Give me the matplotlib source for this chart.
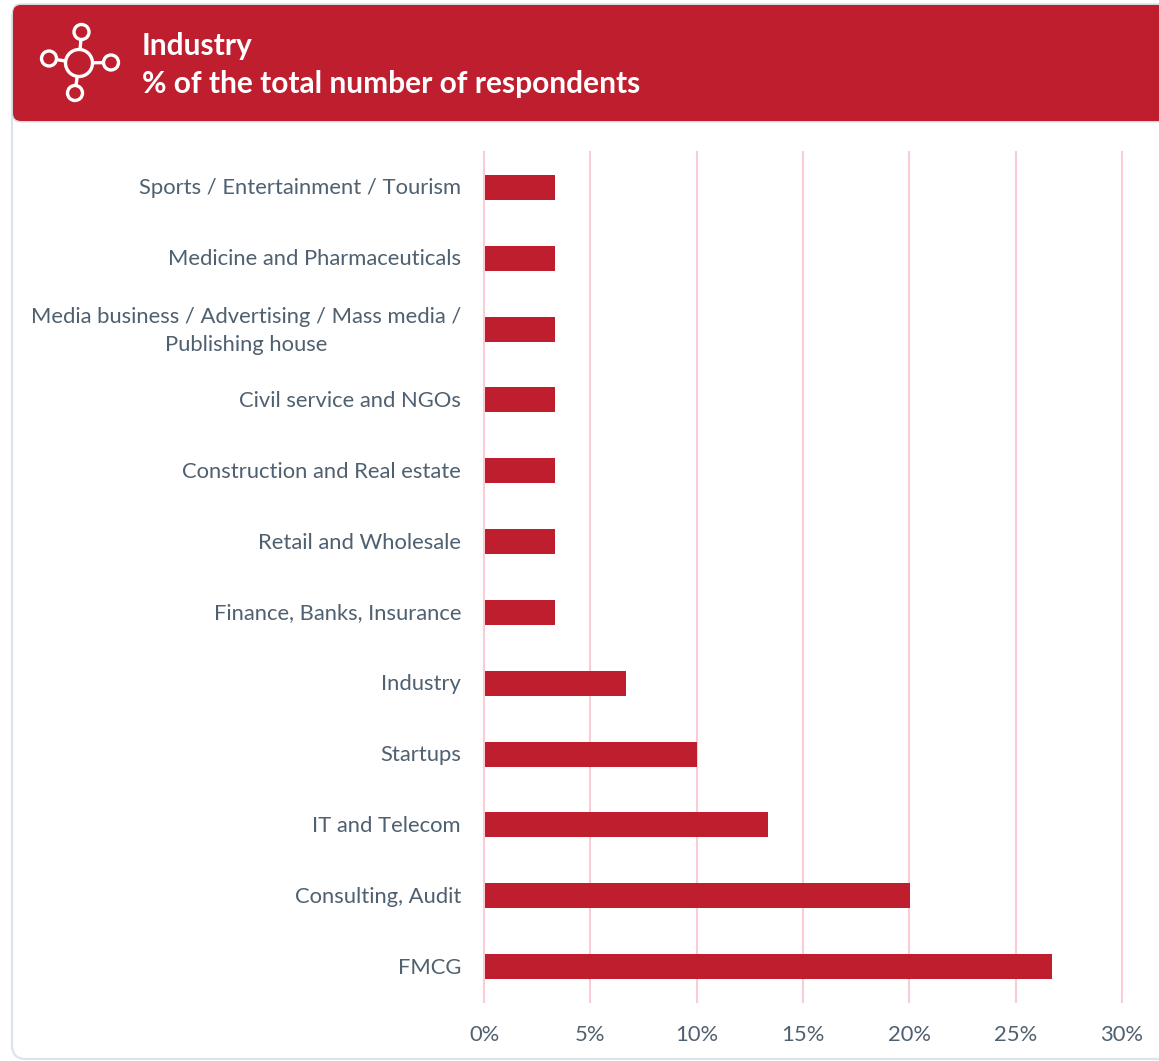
import matplotlib
matplotlib.use("Agg")
import matplotlib.pyplot as plt
from matplotlib.patches import Circle, FancyBboxPatch
from matplotlib.transforms import ScaledTranslation

plt.rcParams["font.family"] = ["Lato", "DejaVu Sans"]

# ── Data ─────────────────────────────────────────────────
categories = [
    "FMCG",
    "Consulting, Audit",
    "IT and Telecom",
    "Startups",
    "Industry",
    "Finance, Banks, Insurance",
    "Retail and Wholesale",
    "Construction and Real estate",
    "Civil service and NGOs",
    "Media business / Advertising / Mass media /\nPublishing house",
    "Medicine and Pharmaceuticals",
    "Sports / Entertainment / Tourism",
]
shares = [26.67, 20.0, 13.33, 10.0, 6.67, 3.33, 3.33, 3.33, 3.33, 3.33, 3.33, 3.33]
x_ticks = [0, 5, 10, 15, 20, 25, 30]
title_lines = ["Industry", "% of the total number of respondents"]

# ── Style ────────────────────────────────────────────────
W, H = 1159, 1061
RED = "#BE1E2D"
GRID = "#F9CDD3"
TEXT = "#4F6070"
BORDER = "#DCE3EC"

fig = plt.figure(figsize=(W / 100, H / 100), dpi=100, facecolor="white")

# Pixel-space layer for the card and header
bg = fig.add_axes([0, 0, 1, 1], zorder=0)
bg.set_xlim(0, W)
bg.set_ylim(H, 0)
bg.axis("off")

bg.add_patch(FancyBboxPatch((12, 5), 1300, 1054, boxstyle="round,pad=0,rounding_size=14",
                            fc="white", ec=BORDER, lw=1.6))
bg.add_patch(FancyBboxPatch((12, 3.5), 1300, 119, boxstyle="round,pad=0,rounding_size=9",
                            fc="#D3D8DF", ec="none"))
bg.add_patch(FancyBboxPatch((13, 5), 1300, 116, boxstyle="round,pad=0,rounding_size=8",
                            fc=RED, ec="none"))

# Header icon
hub = (79, 63)
nodes = [(81.5, 32), (49, 58.5), (111, 62.5), (75, 93)]
for nx, ny in nodes:
    bg.plot([hub[0], nx], [hub[1], ny], color="white", lw=2.4, zorder=3)
    bg.add_patch(Circle((nx, ny), 7.5, fc=RED, ec="white", lw=2.4, zorder=4))
bg.add_patch(Circle(hub, 13.5, fc=RED, ec="white", lw=2.4, zorder=4))

for line, y in zip(title_lines, [46.5, 84]):
    bg.text(142, y, line, color="white", fontsize=21.5, fontweight="bold",
            ha="left", va="center")

# ── Chart ────────────────────────────────────────────────
ax = fig.add_axes([484 / W, 1 - 1002 / H, 638 / W, 850 / H], zorder=1)
ax.patch.set_alpha(0)
pos = list(range(len(categories)))
ax.barh(pos, shares, left=0.03, height=0.355, color=RED, zorder=3)
ax.set_xlim(0, 30)
ax.set_ylim(-0.5, len(categories) - 0.5)

ax.set_xticks(x_ticks)
ax.set_xticklabels([f"{t}%" for t in x_ticks])
ax.set_yticks(pos)
ax.set_yticklabels(categories, multialignment="center", linespacing=1.5)
ax.tick_params(axis="both", length=0, labelsize=15.85, labelcolor=TEXT)
ax.tick_params(axis="y", pad=16.5)
ax.tick_params(axis="x", pad=16.5)

ax.grid(axis="x", color=GRID, lw=1.5, zorder=0)
ax.set_axisbelow(True)
for gl in ax.get_xgridlines():
    gl.set_clip_on(False)
for s in ax.spines.values():
    s.set_visible(False)

# Nudge the category labels up to sit where the reference has them
for lab in ax.get_yticklabels():
    dy = 4.5 if "\n" in lab.get_text() else 1
    lab.set_transform(lab.get_transform() + ScaledTranslation(0, dy / 100, fig.dpi_scale_trans))

fig.savefig("out.png", dpi=100)
